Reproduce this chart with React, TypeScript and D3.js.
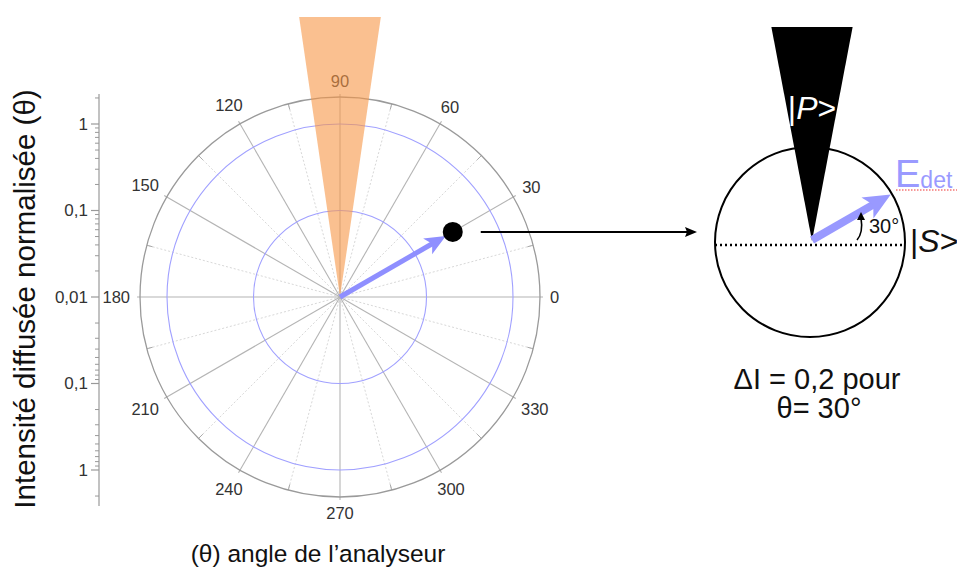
import React from "react";
import * as d3 from "d3";

// ---- data ----
const angleTicks = [0, 30, 60, 90, 120, 150, 180, 210, 240, 270, 300, 330];
const minorAngles = [15, 45, 75, 105, 135, 165, 195, 225, 255, 285, 315, 345];
const decadeValues = [0.01, 0.1, 1];
const decadeLabels = ["0,01", "0,1", "1"];
const blueRingValues = [0.1, 1];
const minorMultipliers = [2, 3, 4, 5, 6, 7, 8, 9];
const axisMaxValue = 2;
const measuredAngle = 30;
const measuredValue = 0.32;
const polarizerAngle = 90;
const polarizerHalfWidth = 8.3;
const detectorAngle = 30;
const detectorWedgeHalf = 10.7;

const FONT = "'Liberation Sans', Arial, Helvetica, sans-serif";
const W = 957;
const H = 568;

const cx = 340;
const cy = 297;
const rScale = d3.scaleLog().domain([0.01, 1]).range([0, 173]);
const outerR = 200;

const rad = (d: number) => (d * Math.PI) / 180;
const px = (deg: number, r: number, ox = cx) => ox + r * Math.cos(rad(deg));
const py = (deg: number, r: number, oy = cy) => oy - r * Math.sin(rad(deg));

function Arrow({ x0, y0, deg, len, headLen, headHalf, width, color }: any) {
  const bx = x0 + (len - headLen) * Math.cos(rad(deg));
  const by = y0 - (len - headLen) * Math.sin(rad(deg));
  const tx = x0 + len * Math.cos(rad(deg));
  const ty = y0 - len * Math.sin(rad(deg));
  const nx = Math.cos(rad(deg + 90));
  const ny = -Math.sin(rad(deg + 90));
  const bx2 = x0 + (len - headLen * 0.75) * Math.cos(rad(deg));
  const by2 = y0 - (len - headLen * 0.75) * Math.sin(rad(deg));
  const pts = [
    [tx, ty],
    [bx + nx * headHalf, by + ny * headHalf],
    [bx2, by2],
    [bx - nx * headHalf, by - ny * headHalf],
  ];
  return (
    <g>
      <line x1={x0} y1={y0} x2={bx2 + 1 * Math.cos(rad(deg))} y2={by2 - 1 * Math.sin(rad(deg))} stroke={color} strokeWidth={width} />
      <polygon points={pts.map((p) => p.join(",")).join(" ")} fill={color} />
    </g>
  );
}

export default function App() {
  const axisX = 99;
  const minorTicks: number[] = [];
  decadeValues.forEach((d) => {
    minorMultipliers.forEach((m) => {
      const v = d * m;
      if (v < axisMaxValue + 1e-9 && d < 1) minorTicks.push(v);
    });
  });
  minorTicks.push(axisMaxValue);
  const axisExtent = rScale(axisMaxValue) + 4;

  // major ticks mirrored about the centre; centre drawn once
  const majorTicks: { y: number; label: string }[] = [];
  decadeValues.forEach((v, i) => {
    majorTicks.push({ y: cy - rScale(v), label: decadeLabels[i] });
    if (rScale(v) > 0) majorTicks.push({ y: cy + rScale(v), label: decadeLabels[i] });
  });

  const wedgeLen = 280;
  const wedgeTopY = cy - wedgeLen;
  const wHalf = wedgeLen * Math.tan(rad(polarizerHalfWidth));

  const dotR = 10;
  const mr = rScale(measuredValue);
  const dotX = px(measuredAngle, mr);
  const dotY = py(measuredAngle, mr);

  // right diagram
  const rcx = 810;
  const rcy = 242;
  const rr = 95;
  const bwLen = 215;
  const bwHalf = bwLen * Math.tan(rad(detectorWedgeHalf));

  return (
    <div style={{ position: "fixed", left: 0, top: 0 }}>
      <svg width={W} height={H} style={{ display: "block", background: "#fff" }} fontFamily={FONT}>
        {/* minor spokes */}
        {minorAngles.map((a) => (
          <line key={"ms" + a} x1={cx} y1={cy} x2={px(a, outerR)} y2={py(a, outerR)} stroke="#d8d8d8" strokeWidth={1} strokeDasharray="2,2" />
        ))}
        {minorAngles.map((a) => (
          <line key={"mt" + a} x1={px(a, outerR - 6)} y1={py(a, outerR - 6)} x2={px(a, outerR)} y2={py(a, outerR)} stroke="#aaa" strokeWidth={1} />
        ))}
        {/* major spokes */}
        {angleTicks.map((a) => (
          <line key={"s" + a} x1={cx} y1={cy} x2={px(a, outerR + 3)} y2={py(a, outerR + 3)} stroke="#b4b4b4" strokeWidth={1.1} />
        ))}
        {/* blue rings */}
        {blueRingValues.map((v) => (
          <circle key={"b" + v} cx={cx} cy={cy} r={rScale(v)} fill="none" stroke="#a0a0ff" strokeWidth={1.1} />
        ))}
        {/* outer circle */}
        <circle cx={cx} cy={cy} r={outerR} fill="none" stroke="#9a9a9a" strokeWidth={1.3} />
        {/* angle labels */}
        {angleTicks.map((a) => {
          const label = String(a);
          const w = label.length * 0.556 * 16.5;
          const lr = 210 + 0.5 * w * Math.abs(Math.cos(rad(a))) + 6 * Math.abs(Math.sin(rad(a)));
          return (
            <text key={"l" + a} x={px(a, lr)} y={py(a, lr)} textAnchor="middle" dominantBaseline="central" fontSize={16.5} fill="#333">
              {label}
            </text>
          );
        })}
        {/* orange polarizer wedge */}
        <polygon
          points={`${cx},${cy} ${cx - wHalf},${wedgeTopY} ${cx + wHalf},${wedgeTopY}`}
          fill="#f79646"
          fillOpacity={0.6}
        />
        {/* blue arrow */}
        <Arrow x0={cx} y0={cy} deg={measuredAngle} len={mr - dotR + 2} headLen={21} headHalf={9} width={5} color="#8f8fff" />
        <circle cx={dotX} cy={dotY} r={dotR} fill="#000" />
        {/* connector */}
        <line x1={dotX + 28} y1={dotY} x2={688} y2={dotY} stroke="#000" strokeWidth={2} />
        <polygon points={`697,${dotY} 685,${dotY - 5} 687,${dotY} 685,${dotY + 5}`} fill="#000" />

        {/* left axis */}
        <line x1={axisX} y1={cy - axisExtent} x2={axisX} y2={cy + axisExtent + 6} stroke="#999" strokeWidth={1.2} />
        {[1, -1].map((s) =>
          minorTicks.map((v) => (
            <line key={"mi" + s + v} x1={axisX - 4} x2={axisX} y1={cy - s * rScale(v)} y2={cy - s * rScale(v)} stroke="#999" strokeWidth={1} />
          ))
        )}
        {majorTicks.map((t, i) => (
          <g key={"ma" + i}>
            <line x1={axisX - 8} x2={axisX} y1={t.y} y2={t.y} stroke="#999" strokeWidth={1.2} />
            <text x={axisX - 11} y={t.y} textAnchor="end" dominantBaseline="central" fontSize={17} fill="#333">
              {t.label}
            </text>
          </g>
        ))}
        <text transform={`translate(35,${cy + 2}) rotate(-90)`} textAnchor="middle" fontSize={29.5} fill="#111">
          Intensité diffusée normalisée (θ)
        </text>
        <text x={318} y={562} textAnchor="middle" fontSize={24.5} fill="#111">
          (θ) angle de l’analyseur
        </text>

        {/* right diagram */}
        <circle cx={rcx} cy={rcy} r={rr} fill="#fff" stroke="#000" strokeWidth={2} />
        <line x1={rcx - rr} y1={rcy + 3} x2={rcx + rr} y2={rcy + 3} stroke="#000" strokeWidth={2.5} strokeDasharray="2,3" />
        <polygon points={`${rcx + 2},${rcy - 1} ${rcx + 2 - bwHalf},${rcy - bwLen} ${rcx + 2 + bwHalf},${rcy - bwLen}`} fill="#000" />
        <text x={rcx + 2} y={119} textAnchor="middle" fontSize={32} fill="#fff">
          |<tspan fontStyle="italic">P</tspan>&gt;
        </text>
        <Arrow x0={rcx + 2} y0={rcy - 2} deg={detectorAngle} len={91} headLen={27} headHalf={12} width={8} color="#9999ff" />
        <path d={`M857,240 C863,233 862,224 861,218`} fill="none" stroke="#000" strokeWidth={1.6} />
        <polygon points="861,212 857,220 865,220" fill="#000" />
        <text x={869} y={233} fontSize={20} fill="#111">30°</text>
        <text x={910} y={252} fontSize={32} fill="#111">
          |<tspan fontStyle="italic">S</tspan>&gt;
        </text>
        <text x={895} y={187} fontSize={38} fill="#9a9aff">
          E<tspan fontSize={23} dy={1}>det</tspan>
        </text>
        <line x1={896} y1={190} x2={957} y2={190} stroke="#e33" strokeWidth={1.2} strokeDasharray="1.5,1.5" />
        <text x={817} y={389} textAnchor="middle" fontSize={29} fill="#111">ΔI = 0,2 pour</text>
        <text x={819} y={418} textAnchor="middle" fontSize={29} fill="#111">θ= 30°</text>
      </svg>
    </div>
  );
}
